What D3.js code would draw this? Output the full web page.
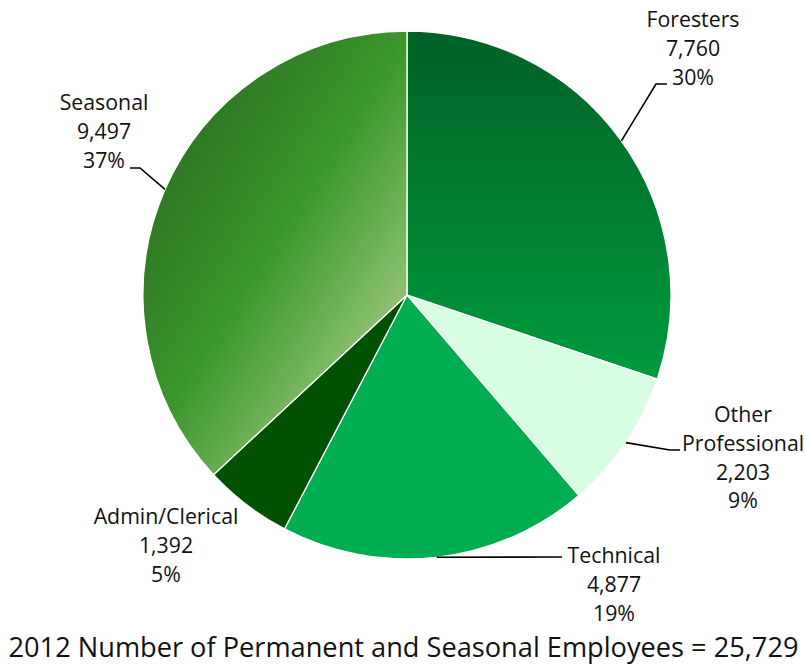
<!DOCTYPE html>
<html>
<head>
<meta charset="utf-8">
<script src="https://cdn.jsdelivr.net/npm/d3@7/dist/d3.min.js"></script>
<style>
  html, body { margin: 0; padding: 0; background: #fff; }
  svg { display: block; }
  text { font-family: "Open Sans", "Noto Sans", sans-serif; fill: #111; }
</style>
</head>
<body>
<svg id="chart" width="805" height="666"></svg>
<script>
// ---- data ----
const categories = ["Foresters", "Other Professional", "Technical", "Admin/Clerical", "Seasonal"];
const values = [7760, 2203, 4877, 1392, 9497];
const percentLabels = ["30%", "9%", "19%", "5%", "37%"];
const labelLines = [["Foresters"], ["Other", "Professional"], ["Technical"], ["Admin/Clerical"], ["Seasonal"]];
const titleText = "2012 Number of Permanent and Seasonal Employees = 25,729";

// ---- layout ----
const W = 805, H = 666;
const cx = 407, cy = 295, R = 264;
const fills = ["url(#gForesters)", "#d8fde2", "#00ad50", "#005100", "url(#gSeasonal)"];
// label anchor (center x, first baseline y) and leader elbow points
const labelPos = [
  { x: 693, y: 27, leader: [[656, 84], [667, 84]] },
  { x: 743, y: 422, leader: [[670, 450], [680, 450]] },
  { x: 614, y: 563, leader: [[562, 557]] },
  { x: 166, y: 524, leader: null },
  { x: 104, y: 110, leader: [[140, 168], [130, 168]] }
];
const lineH = 28.8;

const svg = d3.select("#chart");
const defs = svg.append("defs");

// gradient coordinates are in the pie group's local space (origin = pie center)
const gF = defs.append("linearGradient").attr("id", "gForesters")
  .attr("gradientUnits", "userSpaceOnUse")
  .attr("x1", 0).attr("y1", -R).attr("x2", 0).attr("y2", 85);
gF.append("stop").attr("offset", 0).attr("stop-color", "#006126");
gF.append("stop").attr("offset", 1).attr("stop-color", "#009b3d");

const gS = defs.append("linearGradient").attr("id", "gSeasonal")
  .attr("gradientUnits", "userSpaceOnUse")
  .attr("x1", -237).attr("y1", -150).attr("x2", 0).attr("y2", 0);
gS.append("stop").attr("offset", 0).attr("stop-color", "#2f7424");
gS.append("stop").attr("offset", 0.5).attr("stop-color", "#3a962b");
gS.append("stop").attr("offset", 1).attr("stop-color", "#8fc273");

const pie = d3.pie().sort(null).value(d => d);
const arcs = pie(values);
const arc = d3.arc().innerRadius(0).outerRadius(R);
const edgeArc = d3.arc().innerRadius(R).outerRadius(R);

const g = svg.append("g").attr("transform", `translate(${cx},${cy})`);
g.selectAll("path.slice").data(arcs).join("path")
  .attr("class", "slice")
  .attr("d", arc)
  .attr("fill", (d, i) => fills[i])
  .attr("stroke", "#fff")
  .attr("stroke-width", 1.3)
  .attr("stroke-linejoin", "round");

// leader lines
const line = d3.line();
arcs.forEach((d, i) => {
  const lp = labelPos[i];
  if (!lp.leader) return;
  const [ex, ey] = edgeArc.centroid(d);
  const pts = [[cx + ex, cy + ey], ...lp.leader];
  svg.append("path")
    .attr("d", line(pts))
    .attr("fill", "none")
    .attr("stroke", "#000")
    .attr("stroke-width", 1.6);
});

// labels
const fmt = d3.format(",");
arcs.forEach((d, i) => {
  const lp = labelPos[i];
  const lines = [...labelLines[i], fmt(values[i]), percentLabels[i]];
  const t = svg.append("text")
    .attr("text-anchor", "middle")
    .attr("font-size", 21.3);
  lines.forEach((s, k) => {
    t.append("tspan").attr("x", lp.x).attr("y", lp.y + k * lineH).text(s);
  });
});

// title
svg.append("text")
  .attr("x", W / 2 + 1).attr("y", 657)
  .attr("text-anchor", "middle")
  .attr("font-size", 27)
  .attr("textLength", 790)
  .attr("lengthAdjust", "spacingAndGlyphs")
  .text(titleText);
</script>
</body>
</html>
